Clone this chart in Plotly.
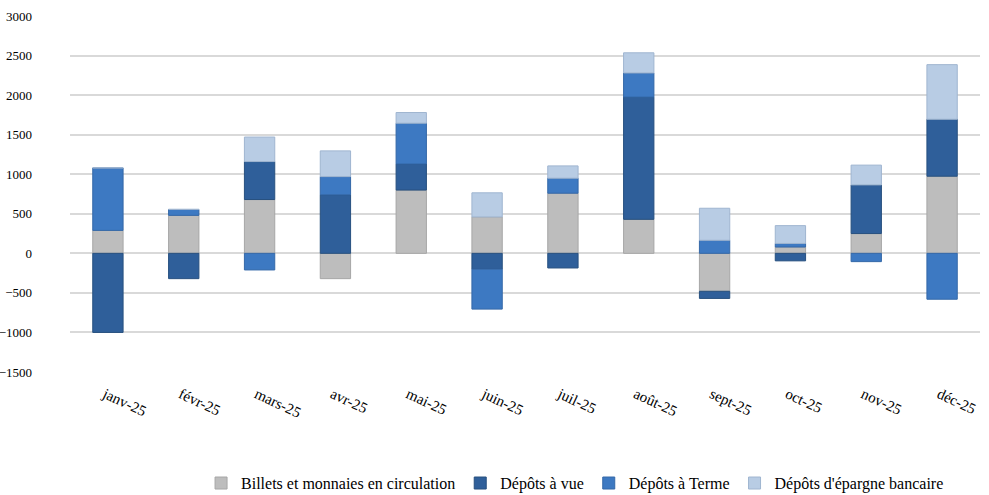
import plotly.graph_objects as go

# Monthly changes by component of the money supply
months = ["janv-25", "févr-25", "mars-25", "avr-25", "mai-25", "juin-25",
          "juil-25", "août-25", "sept-25", "oct-25", "nov-25", "déc-25"]

billets = [290, 480, 680, -320, 800, 460, 760, 430, -480, 80, 250, 975]
depots_vue = [-1000, -320, 480, 740, 330, -200, -185, 1545, -90, -95, 615, 720]
depots_terme = [790, 75, -210, 230, 515, -505, 190, 305, 165, 45, -105, -580]
depots_epargne = [0, 0, 310, 325, 135, 305, 155, 255, 405, 225, 250, 690]

series_names = ["Billets et monnaies en circulation", "Dépôts à vue",
                "Dépôts à Terme", "Dépôts d'épargne bancaire"]
series_values = [billets, depots_vue, depots_terme, depots_epargne]
series_colors = ["#BDBDBD", "#2F5F9A", "#3D79C2", "#B8CCE4"]
edge_colors = ["#A6A6A6", "#27507F", "#3468A8", "#9FB5D0"]

y_ticks = [-1500, -1000, -500, 0, 500, 1000, 1500, 2000, 2500, 3000]

FONT = "'Liberation Serif', 'Times New Roman', 'DejaVu Serif', serif"

fig = go.Figure()
for name, vals, col, edge in zip(series_names, series_values, series_colors, edge_colors):
    fig.add_trace(go.Bar(
        x=months, y=vals, name=name,
        marker=dict(color=col, line=dict(color=edge, width=1)),
    ))

fig.update_layout(
    width=989, height=495,
    margin=dict(l=70, r=9, t=16, b=123, autoexpand=False),
    barmode="relative",
    bargap=0.6,
    plot_bgcolor="white",
    paper_bgcolor="white",
    font=dict(family=FONT, size=15, color="black"),
    showlegend=True,
    legend=dict(
        orientation="h", x=0.555, xanchor="center",
        yref="container", y=0.024, yanchor="middle",
        font=dict(family=FONT, size=16, color="black"),
        itemwidth=30, traceorder="normal",
    ),
    xaxis=dict(
        type="category",
        showline=False, ticks="", showgrid=False,
        tickangle=25,
        ticklabelstandoff=10,
        ticklabelshift=-3,
        tickfont=dict(family=FONT, size=15),
    ),
    # category boundary ticks drawn along the zero line
    xaxis2=dict(
        overlaying="x", anchor="free", position=1500 / 4500,
        range=[-0.5, 11.5], tickvals=[i - 0.5 for i in range(13)],
        showticklabels=False, ticks="outside", ticklen=4, tickcolor="#D0D0D0",
        tickwidth=1, showgrid=False, showline=False, zeroline=False,
    ),
    yaxis=dict(
        range=[-1500, 3000],
        tickvals=y_ticks,
        showgrid=True, gridcolor="#D9D9D9", gridwidth=1.5,
        zeroline=True, zerolinecolor="#D9D9D9", zerolinewidth=1.5,
        showline=False, ticks="",
        ticklabelstandoff=37,
        tickfont=dict(family=FONT, size=13),
    ),
)

fig.write_html("out.html")
